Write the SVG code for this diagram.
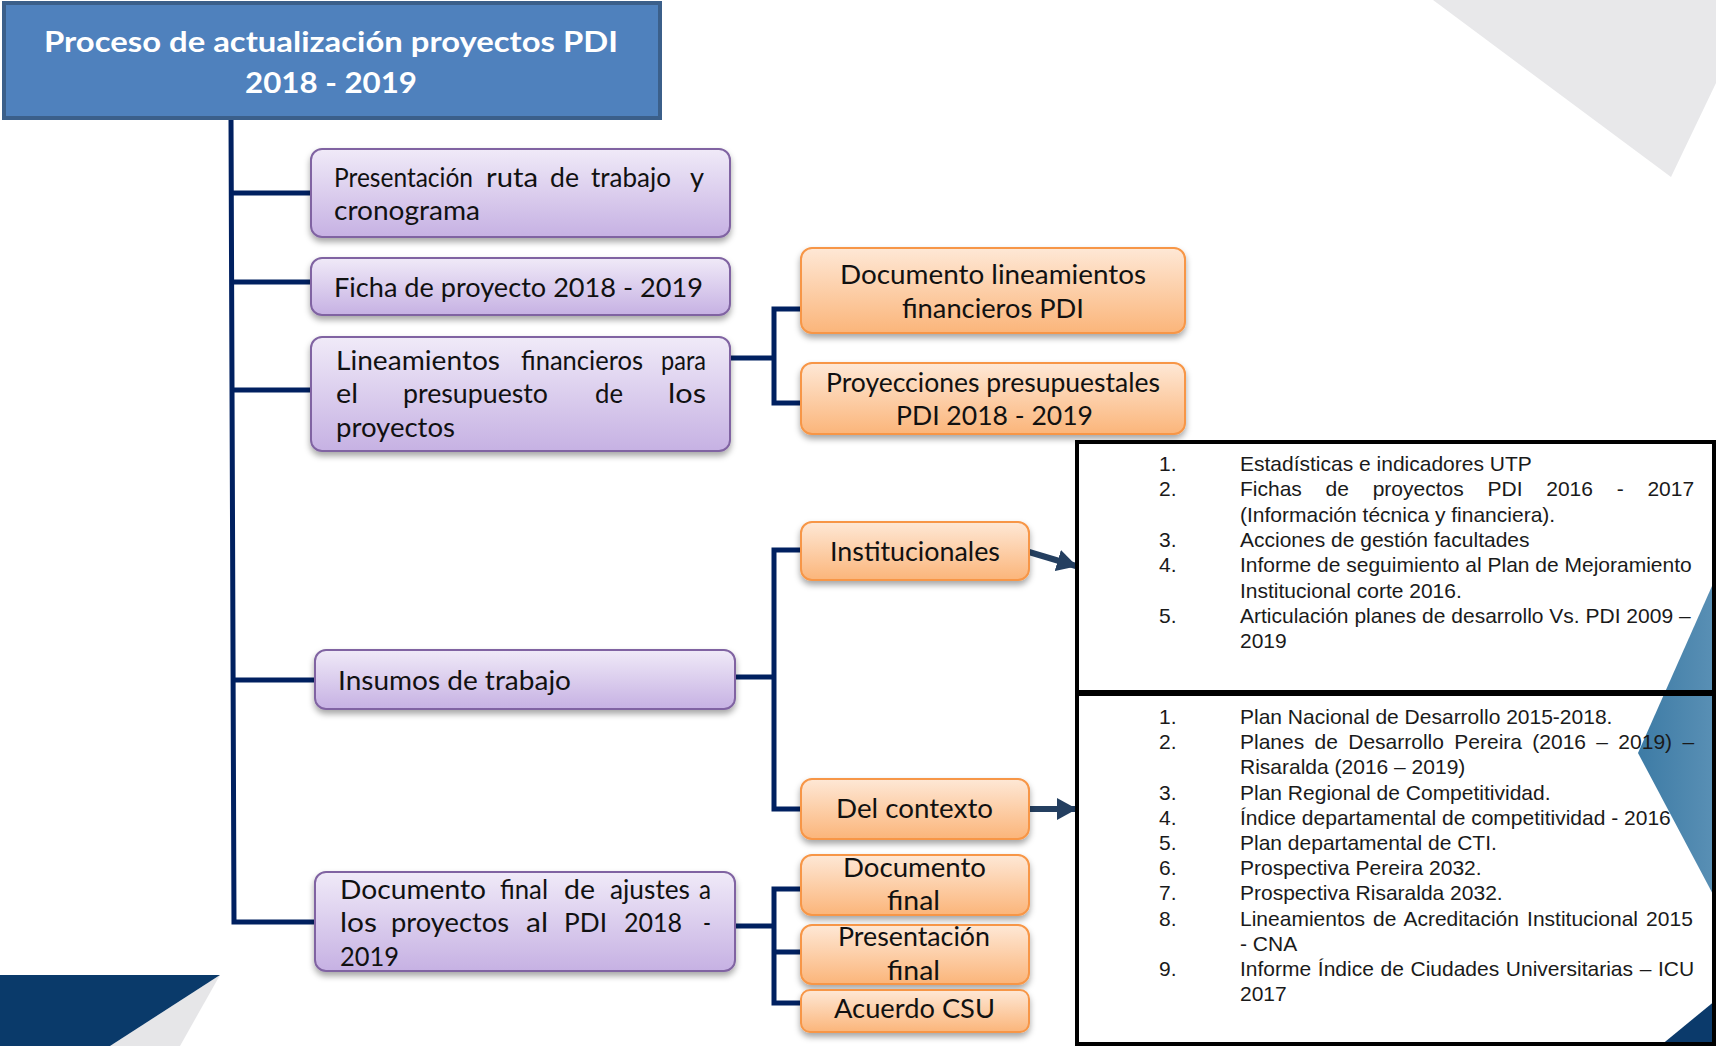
<svg xmlns="http://www.w3.org/2000/svg" width="1716" height="1046" viewBox="0 0 1716 1046">
<defs>
<linearGradient id="gP" x1="0" y1="0" x2="0" y2="1"><stop offset="0" stop-color="#F0EAF8"/><stop offset="1" stop-color="#C6B1E3"/></linearGradient>
<linearGradient id="gO" x1="0" y1="0" x2="0" y2="1"><stop offset="0" stop-color="#FEE8D6"/><stop offset="1" stop-color="#FBB57A"/></linearGradient>
<linearGradient id="gB" x1="0" y1="0" x2="1" y2="0"><stop offset="0" stop-color="#3D7BA5"/><stop offset="1" stop-color="#5A90B5"/></linearGradient>
<filter id="sh" x="-10%" y="-20%" width="120%" height="150%"><feDropShadow dx="0" dy="4" stdDeviation="3" flood-color="#000" flood-opacity="0.35"/></filter>
<marker id="ah" markerUnits="userSpaceOnUse" markerWidth="20" markerHeight="22" refX="19" refY="11" orient="auto"><path d="M0,0 L20,11 L0,22 Z" fill="#243F60"/></marker>
<style>
.pb{fill:url(#gP);stroke:#8064A2;stroke-width:2;filter:url(#sh)}
.ob{fill:url(#gO);stroke:#F79646;stroke-width:2;filter:url(#sh)}
.t{font-family:Lato,"Open Sans",sans-serif;font-size:26.5px;fill:#111}
.tt{font-family:Lato,"Open Sans",sans-serif;font-size:29px;font-weight:bold;fill:#fff}
.l{font-family:"Liberation Sans",Arial,sans-serif;font-size:21px;fill:#1a1a1a}
.c{fill:none;stroke:#002060;stroke-width:5}
.a{fill:none;stroke:#243F60;stroke-width:6}
.bx{fill:none;stroke:#000;stroke-width:4}
</style>
</defs>
<rect width="1716" height="1046" fill="#fff"/>
<g id="background">
<polygon points="1433,0 1716,0 1716,83 1671,177" fill="#E8E8EA"/>
<polygon points="1716,577 1638,753 1716,900" fill="url(#gB)"/>
<polygon points="1660,1046 1716,1000 1716,1046" fill="#0B3A6B"/>
<polygon points="220,975 180,1046 110,1046" fill="#E6E6E8"/>
<polygon points="0,975 220,975 110,1046 0,1046" fill="#0A3A6A"/>
</g>
<g id="connectors">
<path class="c" d="M231,118 L234,922 H316"/>
<path class="c" d="M232,193 H311 M232,282 H311 M233,390 H311 M233,680 H316"/>
<path class="c" d="M730,358 H774 M801,309 H774 V403 H801"/>
<path class="c" d="M736,677 H774 M801,550 H774 V809 H801"/>
<path class="c" d="M736,926 H774 M801,889 H774 V1003 H801 M774,952 H801"/>
<path class="a" d="M1029,552 L1076,566" marker-end="url(#ah)"/>
<path class="a" d="M1029,809 L1076,809" marker-end="url(#ah)"/>
</g>
<g id="title">
<rect x="4" y="3" width="656" height="115" fill="#4F81BD" stroke="#3B5F8A" stroke-width="4"/>
<text class="tt" x="44" y="52" textLength="574" lengthAdjust="spacingAndGlyphs">Proceso de actualización proyectos PDI</text>
<text class="tt" x="245" y="93" textLength="172" lengthAdjust="spacingAndGlyphs">2018 - 2019</text>
</g>
<g id="n1">
<rect class="pb" x="311" y="149" width="419" height="88" rx="11"/>
<text class="t" y="187" x="334" textLength="139" lengthAdjust="spacingAndGlyphs">Presentación</text>
<text class="t" y="187" x="486" textLength="52" lengthAdjust="spacingAndGlyphs">ruta</text>
<text class="t" y="187" x="550" textLength="29" lengthAdjust="spacingAndGlyphs">de</text>
<text class="t" y="187" x="591" textLength="80" lengthAdjust="spacingAndGlyphs">trabajo</text>
<text class="t" y="187" x="690" textLength="14" lengthAdjust="spacingAndGlyphs">y</text>
<text class="t" y="220" x="334" textLength="146" lengthAdjust="spacingAndGlyphs">cronograma</text>
</g>
<g id="n2">
<rect class="pb" x="311" y="258" width="419" height="57" rx="11"/>
<text class="t" y="297" x="334" textLength="369" lengthAdjust="spacingAndGlyphs">Ficha de proyecto 2018 - 2019</text>
</g>
<g id="n3">
<rect class="pb" x="311" y="337" width="419" height="114" rx="11"/>
<text class="t" y="370" x="336" textLength="164" lengthAdjust="spacingAndGlyphs">Lineamientos</text>
<text class="t" y="370" x="521" textLength="122" lengthAdjust="spacingAndGlyphs">financieros</text>
<text class="t" y="370" x="661" textLength="45" lengthAdjust="spacingAndGlyphs">para</text>
<text class="t" y="403" x="336" textLength="22" lengthAdjust="spacingAndGlyphs">el</text>
<text class="t" y="403" x="403" textLength="145" lengthAdjust="spacingAndGlyphs">presupuesto</text>
<text class="t" y="403" x="595" textLength="28" lengthAdjust="spacingAndGlyphs">de</text>
<text class="t" y="403" x="668" textLength="38" lengthAdjust="spacingAndGlyphs">los</text>
<text class="t" y="437" x="336" textLength="119" lengthAdjust="spacingAndGlyphs">proyectos</text>
</g>
<g id="n4">
<rect class="pb" x="315" y="650" width="420" height="59" rx="11"/>
<text class="t" y="690" x="338" textLength="233" lengthAdjust="spacingAndGlyphs">Insumos de trabajo</text>
</g>
<g id="n5">
<rect class="pb" x="315" y="872" width="420" height="99" rx="11"/>
<text class="t" y="899" x="340" textLength="146" lengthAdjust="spacingAndGlyphs">Documento</text>
<text class="t" y="899" x="500" textLength="48" lengthAdjust="spacingAndGlyphs">final</text>
<text class="t" y="899" x="564" textLength="31" lengthAdjust="spacingAndGlyphs">de</text>
<text class="t" y="899" x="610" textLength="80" lengthAdjust="spacingAndGlyphs">ajustes</text>
<text class="t" y="899" x="699" textLength="12" lengthAdjust="spacingAndGlyphs">a</text>
<text class="t" y="932" x="340" textLength="37" lengthAdjust="spacingAndGlyphs">los</text>
<text class="t" y="932" x="391" textLength="118" lengthAdjust="spacingAndGlyphs">proyectos</text>
<text class="t" y="932" x="526" textLength="22" lengthAdjust="spacingAndGlyphs">al</text>
<text class="t" y="932" x="564" textLength="43" lengthAdjust="spacingAndGlyphs">PDI</text>
<text class="t" y="932" x="624" textLength="58" lengthAdjust="spacingAndGlyphs">2018</text>
<text class="t" y="932" x="703" textLength="8" lengthAdjust="spacingAndGlyphs">-</text>
<text class="t" y="966" x="340" textLength="59" lengthAdjust="spacingAndGlyphs">2019</text>
</g>
<g id="o1">
<rect class="ob" x="801" y="248" width="384" height="85" rx="11"/>
<text class="t" y="284" x="840" textLength="306" lengthAdjust="spacingAndGlyphs">Documento lineamientos</text>
<text class="t" y="318" x="902" textLength="182" lengthAdjust="spacingAndGlyphs">financieros PDI</text>
</g>
<g id="o2">
<rect class="ob" x="801" y="363" width="384" height="71" rx="11"/>
<text class="t" y="392" x="826" textLength="334" lengthAdjust="spacingAndGlyphs">Proyecciones presupuestales</text>
<text class="t" y="425" x="896" textLength="197" lengthAdjust="spacingAndGlyphs">PDI 2018 - 2019</text>
</g>
<g id="o3">
<rect class="ob" x="801" y="522" width="228" height="58" rx="11"/>
<text class="t" y="561" x="830" textLength="170" lengthAdjust="spacingAndGlyphs">Institucionales</text>
</g>
<g id="o4">
<rect class="ob" x="801" y="779" width="228" height="60" rx="11"/>
<text class="t" y="818" x="836" textLength="157" lengthAdjust="spacingAndGlyphs">Del contexto</text>
</g>
<g id="o5">
<rect class="ob" x="801" y="855" width="228" height="60" rx="11"/>
<text class="t" y="877" x="843" textLength="143" lengthAdjust="spacingAndGlyphs">Documento</text>
<text class="t" y="910" x="887" textLength="53" lengthAdjust="spacingAndGlyphs">final</text>
</g>
<g id="o6">
<rect class="ob" x="801" y="925" width="228" height="59" rx="11"/>
<text class="t" y="946" x="838" textLength="152" lengthAdjust="spacingAndGlyphs">Presentación</text>
<text class="t" y="980" x="887" textLength="53" lengthAdjust="spacingAndGlyphs">final</text>
</g>
<g id="o7">
<rect class="ob" x="801" y="990" width="228" height="42" rx="9"/>
<text class="t" y="1018" x="834" textLength="161" lengthAdjust="spacingAndGlyphs">Acuerdo CSU</text>
</g>
<g id="list1">
<rect class="bx" x="1077" y="442" width="637" height="250"/>
<text class="l" x="1159" y="471">1.</text><text class="l" x="1240" y="471">Estadísticas e indicadores UTP</text>
<text class="l" x="1159" y="496">2.</text><text class="l" x="1240" y="496" word-spacing="17.9">Fichas de proyectos PDI 2016 - 2017</text>
<text class="l" x="1240" y="522">(Información técnica y financiera).</text>
<text class="l" x="1159" y="547">3.</text><text class="l" x="1240" y="547">Acciones de gestión facultades</text>
<text class="l" x="1159" y="572">4.</text><text class="l" x="1240" y="572">Informe de seguimiento al Plan de Mejoramiento</text>
<text class="l" x="1240" y="598">Institucional corte 2016.</text>
<text class="l" x="1159" y="623">5.</text><text class="l" x="1240" y="623">Articulación planes de desarrollo Vs. PDI 2009 –</text>
<text class="l" x="1240" y="648">2019</text>
</g>
<g id="list2">
<rect class="bx" x="1077" y="694" width="637" height="350"/>
<text class="l" x="1159" y="724">1.</text><text class="l" x="1240" y="724">Plan Nacional de Desarrollo 2015-2018.</text>
<text class="l" x="1159" y="749">2.</text><text class="l" x="1240" y="749" word-spacing="4.5">Planes de Desarrollo Pereira (2016 – 2019) –</text>
<text class="l" x="1240" y="774">Risaralda (2016 – 2019)</text>
<text class="l" x="1159" y="800">3.</text><text class="l" x="1240" y="800">Plan Regional de Competitividad.</text>
<text class="l" x="1159" y="825">4.</text><text class="l" x="1240" y="825">Índice departamental de competitividad - 2016</text>
<text class="l" x="1159" y="850">5.</text><text class="l" x="1240" y="850">Plan departamental de CTI.</text>
<text class="l" x="1159" y="875">6.</text><text class="l" x="1240" y="875">Prospectiva Pereira 2032.</text>
<text class="l" x="1159" y="900">7.</text><text class="l" x="1240" y="900">Prospectiva Risaralda 2032.</text>
<text class="l" x="1159" y="926">8.</text><text class="l" x="1240" y="926" word-spacing="2.3">Lineamientos de Acreditación Institucional 2015</text>
<text class="l" x="1240" y="951">- CNA</text>
<text class="l" x="1159" y="976">9.</text><text class="l" x="1240" y="976" word-spacing="0.8">Informe Índice de Ciudades Universitarias – ICU</text>
<text class="l" x="1240" y="1001">2017</text>
</g>
</svg>
